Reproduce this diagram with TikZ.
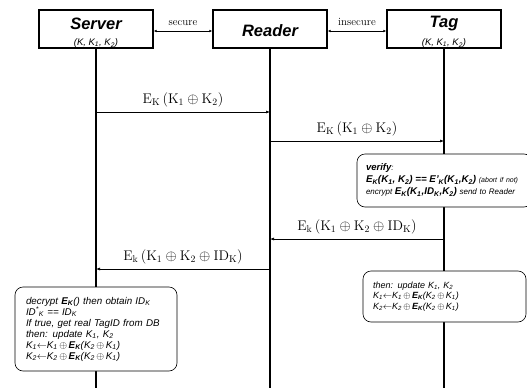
\documentclass[tikz,border=0pt]{standalone}
\usepackage{fontspec}
\setsansfont{Liberation Sans}
\usetikzlibrary{arrows.meta}

\newcommand{\lo}[1]{\textsubscript{#1}}
\newcommand{\EK}{\textbf{E\lo{K}}}
\newcommand{\xor}{\,$\oplus$\,}

\tikzset{
  party/.style={draw,line width=1.2pt,minimum width=114pt,minimum height=38pt},
  pname/.style={font=\sffamily\bfseries\itshape\fontsize{16.5}{18}\selectfont,inner sep=0pt},
  pkeys/.style={font=\sffamily\itshape\fontsize{9.5}{11}\selectfont,inner sep=0pt},
  lifeline/.style={line width=1.8pt},
  msg/.style={-{Latex[length=4pt,width=3pt]},line width=0.6pt},
  chan/.style={{Latex[length=3pt,width=2.5pt]}-{Latex[length=3pt,width=2.5pt]},line width=0.6pt},
  lbl/.style={font=\fontsize{14}{16}\selectfont,inner sep=2pt},
  memo/.style={draw,fill=white,rounded corners=8pt,line width=0.6pt,align=left,
    font=\sffamily\itshape\fontsize{9.8}{11}\selectfont}
}

\begin{document}
\begin{tikzpicture}[x=1pt,y=-1pt]
\useasboundingbox (0,0) rectangle (527,388);

% parties
\node[party] (server) at (96,29) {};
\node[party] (reader) at (270,29) {};
\node[party] (tag) at (444,29) {};
\node[pname] at (96,24) {Server};
\node[pkeys] at (96,43) {(K, K\lo1, K\lo2)};
\node[pname] at (270,31) {Reader};
\node[pname] at (444,24) {Tag};
\node[pkeys] at (444,43) {(K, K\lo1, K\lo2)};

% channels between them
\draw[chan] ([yshift=-2pt]server.east) -- node[above=5pt,inner sep=0pt,font=\fontsize{11}{12}\selectfont] {secure} ([yshift=-2pt]reader.west);
\draw[chan] ([yshift=-2pt]reader.east) -- node[above=5pt,inner sep=0pt,font=\fontsize{11}{12}\selectfont] {insecure} ([yshift=-2pt]tag.west);

% lifelines
\coordinate (bot) at (0,388);
\foreach \p in {server,reader,tag}
  \draw[lifeline] (\p.south) -- (\p |- bot);

% messages
\coordinate (m1) at (0,112);
\coordinate (m2) at (0,141);
\coordinate (m3) at (0,239);
\coordinate (m4) at (0,269);
\draw[msg] (server |- m1) -- node[lbl,above=3pt] {$\mathrm{E_K\,(K_1\oplus K_2)}$} (reader |- m1);
\draw[msg] (reader |- m2) -- node[lbl,above=3pt] {$\mathrm{E_K\,(K_1\oplus K_2)}$} (tag |- m2);
\draw[msg] (tag |- m3) -- node[lbl,above=3pt] {$\mathrm{E_k\,(K_1\oplus K_2\oplus ID_K)}$} (reader |- m3);
\draw[msg] (reader |- m4) -- node[lbl,above=3pt] {$\mathrm{E_k\,(K_1\oplus K_2\oplus ID_K)}$} (server |- m4);

% what each side does
\node[memo,minimum width=175pt,minimum height=53pt,text width=157pt,
  font=\sffamily\itshape\fontsize{8}{12}\selectfont] (verify) at (444.5,180.5) {%
  {\bfseries\fontsize{9.5}{12}\selectfont verify}:\\
  {\bfseries\fontsize{9.8}{12}\selectfont E\lo{K}(K\lo1, K\lo2) == E'\lo{K}(K\lo1,K\lo2)} {\fontsize{7}{12}\selectfont (abort if not)}\\
  encrypt {\bfseries\fontsize{9.8}{12}\selectfont E\lo{K}(K\lo1,ID\lo{K},K\lo2)} send to Reader};

\node[memo,minimum width=162pt,minimum height=84pt,text width=140pt] (srvnote) at (96,329) {%
  decrypt \EK() then obtain ID\lo{K}\\
  ID\textsuperscript{*}\lo{K} == ID\lo{K}\\
  If true, get real TagID from DB\\
  then: update K\lo1, K\lo2\\
  K\lo1$\leftarrow$K\lo1\xor\EK(K\lo2\xor K\lo1)\\
  K\lo2$\leftarrow$K\lo2\xor\EK(K\lo2\xor K\lo1)};

\node[memo,minimum width=163pt,minimum height=51pt,text width=143pt,
  font=\sffamily\itshape\fontsize{9}{10.5}\selectfont] (tagnote) at (444.5,296.5) {%
  then: update K\lo1, K\lo2\\
  K\lo1$\leftarrow$K\lo1\xor\EK(K\lo2\xor K\lo1)\\
  K\lo2$\leftarrow$K\lo2\xor\EK(K\lo2\xor K\lo1)};
\end{tikzpicture}
\end{document}
